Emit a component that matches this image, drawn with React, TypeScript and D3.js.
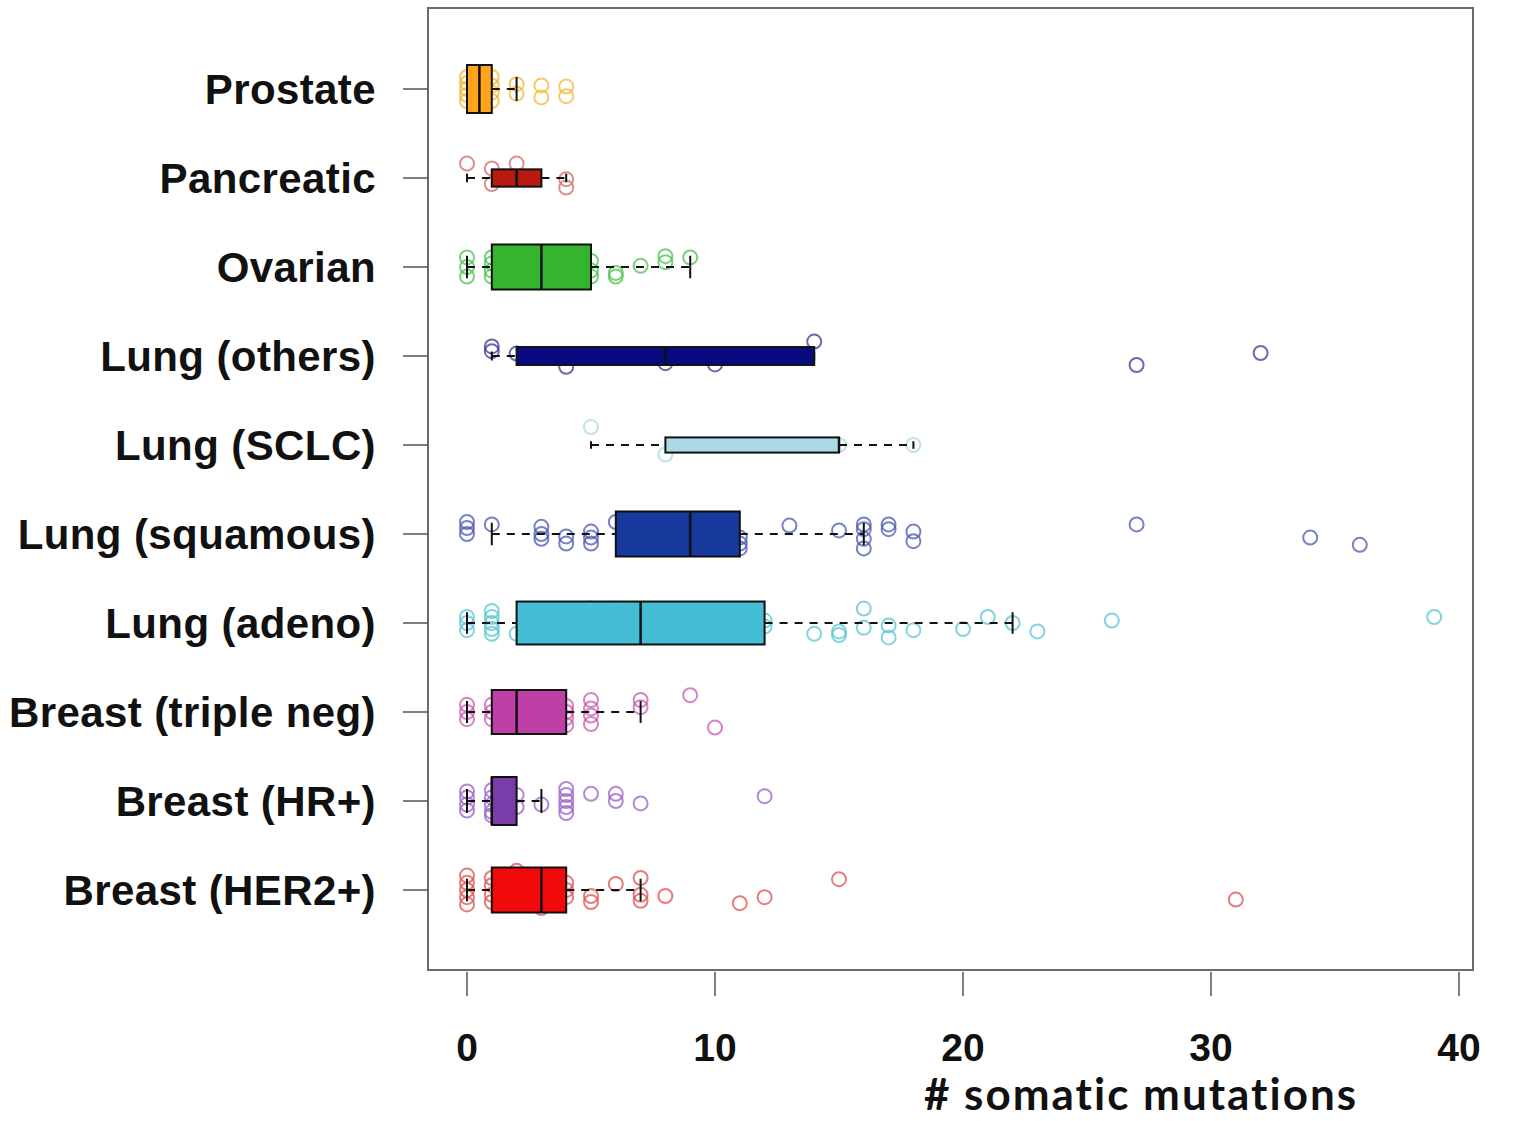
import { useEffect, useRef } from "react";
import * as d3 from "d3";

const categories = [
  "Prostate",
  "Pancreatic",
  "Ovarian",
  "Lung (others)",
  "Lung (SCLC)",
  "Lung (squamous)",
  "Lung (adeno)",
  "Breast (triple neg)",
  "Breast (HR+)",
  "Breast (HER2+)",
];

// [lower whisker, Q1, median, Q3, upper whisker]
const boxStats = [
  [0, 0, 0.5, 1, 2],
  [0, 1, 2, 3, 4],
  [0, 1, 3, 5, 9],
  [1, 2, 8, 14, 14],
  [5, 8, 15, 15, 18],
  [1, 6, 9, 11, 16],
  [0, 2, 7, 12, 22],
  [0, 1, 2, 4, 7],
  [0, 1, 1, 2, 3],
  [0, 1, 3, 4, 7],
];

// estimated group sizes (box height ~ sqrt(n))
const sampleSizes = [100, 13, 88, 14, 10, 88, 80, 84, 100, 88];

// observed points: [value, vertical jitter]
const prostatePts = [[0, -1], [0, -0.5], [0, 0], [0, 0.5], [0, 1], [1, -1], [1, -0.3], [1, 0.3], [1, 1], [2, -0.4], [2, 0.4], [3, -0.3], [3, 0.7], [4, -0.2], [4, 0.6]];
const pancreaticPts = [[0, -1.2], [1, -0.8], [1, 0.5], [2, -1.2], [4, 0.1], [4, 0.8]];
const ovarianPts = [[0, -0.8], [0, 0], [0, 0.8], [1, -0.8], [1, -0.3], [1, 0.3], [1, 0.8], [2, -0.9], [2, 0.9], [3, 0.9], [4, -0.9], [5, -0.5], [5, 0.3], [5, 0.8], [6, 0.5], [6, 0.8], [7, -0.1], [8, -0.9], [8, -0.4], [9, -0.8]];
const lungOthersPts = [[1, -0.8], [1, -0.4], [2, -0.2], [4, 0.9], [8, 0.6], [10, 0.7], [14, -1.2], [27, 0.75], [32, -0.25]];
const sclcPts = [[5, -1.5], [8, 0.8], [15, 0], [18, 0]];
const squamousPts = [[0, -1], [0, -0.5], [0, 0], [1, -0.8], [3, -0.6], [3, 0], [3, 0.4], [4, 0.2], [4, 0.8], [5, -0.2], [5, 0.3], [5, 0.8], [6, -1], [7, -1], [8, 1.1], [10, -1], [11, 0.3], [11, 0.8], [11, 1.2], [13, -0.7], [15, -0.3], [16, -0.8], [16, -0.4], [16, 0.4], [16, 1.2], [17, -0.8], [17, -0.4], [18, -0.2], [18, 0.6], [27, -0.8], [34, 0.3], [36, 0.9]];
const adenoPts = [[0, -0.5], [0, 0], [0, 0.6], [1, -1], [1, -0.5], [1, 0], [1, 0.5], [1, 0.9], [2, 0.9], [3, 1.1], [5, -1.2], [5, 1.0], [6, -1.2], [8, 1.2], [12, -0.2], [12, 0.3], [14, 0.9], [15, 0.7], [15, 1.0], [16, -1.2], [16, 0.4], [17, 0.2], [17, 1.2], [18, 0.6], [20, 0.5], [21, -0.5], [22, 0], [23, 0.7], [26, -0.2], [39, -0.5]];
const tripleNegPts = [[0, -0.6], [0, 0], [0, 0.6], [1, -0.6], [1, 0], [1, 0.6], [2, -1], [3, -1], [4, -0.5], [4, 0], [4, 0.5], [4, 1.1], [5, -1], [5, -0.3], [5, 0.3], [5, 1], [7, -1], [7, -0.4], [9, -1.4], [10, 1.3]];
const hrPosPts = [[0, -0.8], [0, -0.3], [0, 0.3], [0, 0.8], [1, -0.9], [1, -0.3], [1, 0.3], [1, 0.9], [1, 1.2], [2, -0.5], [2, 0.5], [3, 0.3], [4, -1], [4, -0.5], [4, 0], [4, 0.5], [4, 1], [5, -0.6], [6, -0.6], [6, 0], [7, 0.2], [12, -0.4]];
const her2Pts = [[0, -1.2], [0, -0.6], [0, 0], [0, 0.6], [0, 1.2], [1, -1], [1, -0.4], [1, 0.4], [1, 1], [2, -1.6], [3, 1.5], [4, -0.6], [4, 0], [4, 0.6], [5, 0.5], [5, 1], [6, -0.5], [7, -1], [7, 0.4], [7, 0.9], [8, 0.5], [11, 1.1], [12, 0.6], [15, -0.9], [31, 0.8]];

const points = [prostatePts, pancreaticPts, ovarianPts, lungOthersPts, sclcPts, squamousPts, adenoPts, tripleNegPts, hrPosPts, her2Pts];

const boxColors = ["#FFA41B", "#B81A10", "#35B52E", "#0A0A80", "#ADD8E6", "#173A9C", "#45BDD5", "#BE3FA6", "#7A3CA8", "#F20A0A"];
const pointColors = ["#F0B830", "#D06A6A", "#4CC24C", "#3A3A90", "#A8DCD8", "#4A58B0", "#58C6D2", "#C85AB0", "#9A62C4", "#E05050"];

const xTicks = [0, 10, 20, 30, 40];

const App = () => {
  const svgRef = useRef<SVGSVGElement | null>(null);

  useEffect(() => {
    const svg = d3.select(svgRef.current);
    svg.selectAll("*").remove();

    const plot = { left: 428, top: 8, right: 1473, bottom: 970 };

    const x = d3.scaleLinear().domain([0, 40]).range([467, 1459]);
    const y = d3.scalePoint<string>().domain(categories).range([89, 890]);
    const boxH = d3
      .scaleSqrt()
      .domain([0, d3.max(sampleSizes) as number])
      .range([0, 48]);
    const jitter = d3.scaleLinear().domain([-1, 1]).range([-12, 12]);

    // frame
    svg
      .append("rect")
      .attr("x", plot.left)
      .attr("y", plot.top)
      .attr("width", plot.right - plot.left)
      .attr("height", plot.bottom - plot.top)
      .attr("fill", "none")
      .attr("stroke", "#6b6b6b")
      .attr("stroke-width", 2);

    // y axis
    const yg = svg.append("g");
    categories.forEach((c) => {
      yg.append("line")
        .attr("x1", 403)
        .attr("x2", plot.left)
        .attr("y1", y(c)!)
        .attr("y2", y(c)!)
        .attr("stroke", "#555")
        .attr("stroke-width", 1.5);
      yg.append("text")
        .attr("x", 376)
        .attr("y", y(c)!)
        .attr("dy", "0.36em")
        .attr("text-anchor", "end")
        .attr("font-family", "'Liberation Sans', Arial, sans-serif")
        .attr("font-weight", "bold")
        .attr("font-size", 42)
        .attr("letter-spacing", 0.4)
        .attr("fill", "#111")
        .text(c);
    });

    // x axis
    const xg = svg.append("g");
    xTicks.forEach((t) => {
      xg.append("line")
        .attr("x1", x(t))
        .attr("x2", x(t))
        .attr("y1", plot.bottom + 2)
        .attr("y2", 996)
        .attr("stroke", "#555")
        .attr("stroke-width", 1.5);
      xg.append("text")
        .attr("x", x(t))
        .attr("y", 1061)
        .attr("text-anchor", "middle")
        .attr("font-family", "'Liberation Sans Narrow', 'Liberation Sans', Arial, sans-serif")
        .attr("font-weight", "bold")
        .attr("font-size", 39)
        .attr("fill", "#111")
        .text(t);
    });
    svg
      .append("text")
      .attr("x", 1141)
      .attr("y", 1110)
      .attr("text-anchor", "middle")
      .attr("font-family", "Lato, 'Open Sans', sans-serif")
      .attr("font-weight", "bold")
      .attr("font-size", 44)
      .attr("letter-spacing", 2)
      .attr("fill", "#111")
      .text("# somatic mutations");

    categories.forEach((c, i) => {
      const cy = y(c)!;
      const [lo, q1, med, q3, hi] = boxStats[i];
      const h = boxH(sampleSizes[i]);
      const g = svg.append("g");

      // points (under the box)
      g.selectAll("circle")
        .data(points[i])
        .enter()
        .append("circle")
        .attr("cx", (d) => x(d[0]))
        .attr("cy", (d) => cy + jitter(d[1]))
        .attr("r", 7)
        .attr("fill", "none")
        .attr("stroke", pointColors[i])
        .attr("stroke-opacity", 0.75)
        .attr("stroke-width", 2);

      // whiskers
      const dashed = [
        [lo, q1],
        [q3, hi],
      ];
      dashed.forEach(([a, b]) => {
        if (b > a) {
          g.append("line")
            .attr("x1", x(a))
            .attr("x2", x(b))
            .attr("y1", cy)
            .attr("y2", cy)
            .attr("stroke", "#111")
            .attr("stroke-width", 2)
            .attr("stroke-dasharray", "8 7");
        }
      });
      [lo, hi].forEach((v) => {
        g.append("line")
          .attr("x1", x(v))
          .attr("x2", x(v))
          .attr("y1", cy - h / 4)
          .attr("y2", cy + h / 4)
          .attr("stroke", "#111")
          .attr("stroke-width", 2);
      });

      // box
      g.append("rect")
        .attr("x", x(q1))
        .attr("y", cy - h / 2)
        .attr("width", x(q3) - x(q1))
        .attr("height", h)
        .attr("fill", boxColors[i])
        .attr("stroke", "#111")
        .attr("stroke-width", 2);
      g.append("line")
        .attr("x1", x(med))
        .attr("x2", x(med))
        .attr("y1", cy - h / 2)
        .attr("y2", cy + h / 2)
        .attr("stroke", "#111")
        .attr("stroke-width", 2.5);
    });
  }, []);

  return (
    <svg
      ref={svgRef}
      width={1514}
      height={1121}
      style={{ position: "absolute", left: 0, top: 0, background: "#fff" }}
    ></svg>
  );
};

export default App;
